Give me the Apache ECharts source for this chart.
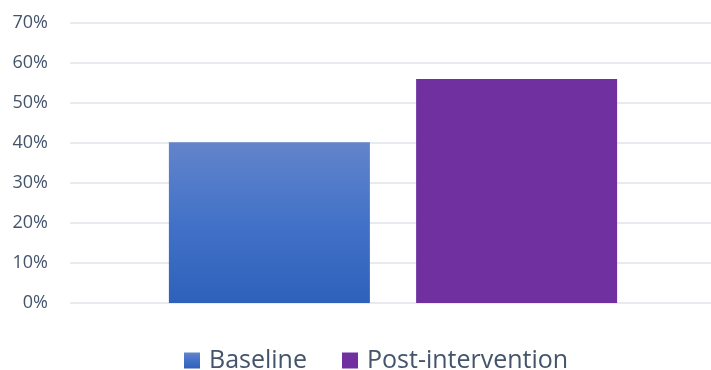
<!DOCTYPE html>
<html>
<head>
<meta charset="utf-8">
<script src="https://cdn.jsdelivr.net/npm/echarts@6/dist/echarts.min.js"></script>
<style>
html, body { margin: 0; padding: 0; background: #fff; }
#main { width: 711px; height: 370px; }
</style>
</head>
<body>
<div id="main"></div>
<script>
var categories = ['Group'];
var seriesNames = ['Baseline', 'Post-intervention'];
var baselineValues = [40.2];
var postValues = [56];
var yTicks = { min: 0, max: 70, interval: 10 };

var myChart = echarts.init(document.getElementById('main'));
var blueGradient = new echarts.graphic.LinearGradient(0, 0, 0, 1, [
    { offset: 0, color: '#6384cb' },
    { offset: 0.5, color: '#4272c8' },
    { offset: 1, color: '#2e61ba' }
]);
var option = {
    animation: false,
    legend: {
        top: 343,
        left: 179,
        itemWidth: 16,
        itemHeight: 16,
        itemGap: 35,
        icon: 'rect',
        textStyle: {
            fontFamily: 'Open Sans',
            fontSize: 25,
            color: '#44546a',
            padding: [0, 0, 0, 4]
        },
        data: seriesNames
    },
    grid: {
        left: 70,
        right: -5,
        top: 23,
        bottom: 67,
        containLabel: false,
        outerBoundsMode: 'none'
    },
    xAxis: {
        type: 'category',
        data: categories,
        axisLine: { show: false },
        axisTick: { show: false },
        axisLabel: { show: false }
    },
    yAxis: {
        type: 'value',
        min: yTicks.min,
        max: yTicks.max,
        interval: yTicks.interval,
        axisLine: { show: false },
        axisTick: { show: false },
        axisLabel: {
            formatter: '{value}%',
            margin: 22,
            fontFamily: 'Open Sans',
            fontSize: 18,
            color: '#44546a'
        },
        splitLine: {
            lineStyle: { color: '#dfe3e8', width: 1.5 }
        }
    },
    series: [
        {
            name: seriesNames[0],
            type: 'bar',
            barWidth: 201,
            barGap: '23%',
            itemStyle: { color: blueGradient },
            data: baselineValues
        },
        {
            name: seriesNames[1],
            type: 'bar',
            barWidth: 201,
            barGap: '23%',
            itemStyle: { color: '#7030a0' },
            data: postValues
        }
    ]
};
myChart.setOption(option);
</script>
</body>
</html>
